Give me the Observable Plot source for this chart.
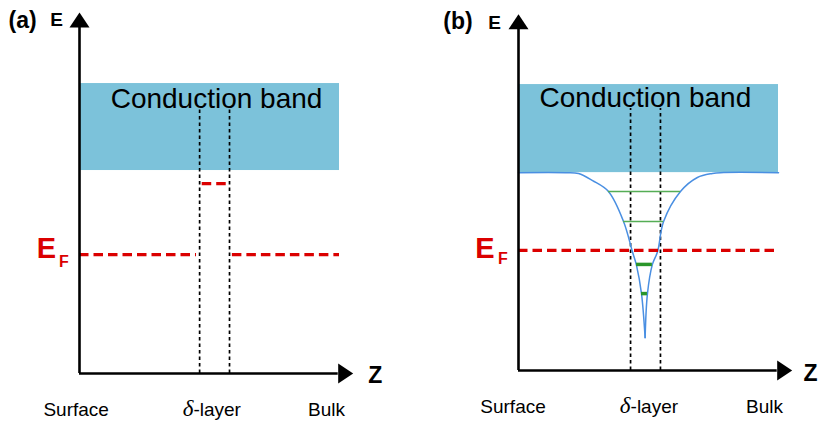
<!DOCTYPE html>
<html>
<head>
<meta charset="utf-8">
<script src="https://cdn.jsdelivr.net/npm/d3@7"></script>
<script src="https://cdn.jsdelivr.net/npm/@observablehq/plot@0.6"></script>
<style>
  html, body { margin: 0; padding: 0; background: #fff; }
  #wrap { display: flex; width: 819px; height: 421px; }
</style>
</head>
<body>
<div id="wrap"></div>
<script>
// ---------- data (abstract units: z = depth, E = energy) ----------
const panelTags = ["(a)", "(b)"];
const axisLabels = ["E", "Z"];
const bottomLabels = ["Surface", "Bulk"];
const bottomLabelZ = [[-0.13, 9.5], [-0.21, 9.46]];
const deltaSymbol = "δ";
const deltaSuffix = "-layer";
const deltaLabelZ = [4.38, 4.31];
const bandLabel = "Conduction band";
const bandLabelZ = [5.27, 4.88];
const bandLabelE = [9.17, 9.2];

const bandZ = [0, 10];
const bandBottom = [7.0, 6.92];
const bandTop = [10, 10];

const deltaLayerZ = [[4.62, 5.77], [4.31, 5.46]];
const dottedTop = [9.14, 9.16];

const fermiE = [4.1, 4.2];
const fermiSegments = [[[0, 4.5], [5.88, 10]], [[0, 10]]];
const donorLevelE = 6.55;
const donorLevelZ = [4.72, 5.68];

// potential well of panel (b)
const wellLeftZ  = [0, 1.81, 2.31, 2.85, 3.46, 4.04, 4.38, 4.54, 4.73, 4.87];
const wellLeftE  = [6.92, 6.92, 6.89, 6.64, 6.26, 5.21, 4.16, 3.67, 2.69, 1.15];
const wellRightZ = [4.87, 4.96, 5.15, 5.35, 5.58, 6.23, 6.88, 7.46, 7.77, 10];
const wellRightE = [1.15, 2.69, 3.71, 4.16, 5.21, 6.26, 6.75, 6.89, 6.92, 6.92];

// quantised sub-bands
const subbandE  = [6.26, 5.21, 3.71, 2.69];
const subbandZ1 = [3.46, 4.04, 4.54, 4.73];
const subbandZ2 = [6.23, 5.58, 5.15, 4.96];

// ---------- styling ----------
const BAND = "#7cc2da";
const RED = "#db0000";
const WELL = "#4a8fe2";
const GREEN_THIN = "#55ad55";
const GREEN_THICK = "#2a962a";
const FONT = "'Liberation Sans', Arial, Helvetica, sans-serif";

const X_MAX = 10.5, Y_MAX = 12.45;
const arrowBaseX = 9.95, arrowBaseY = 11.93;

const arrowHead = {
  draw(ctx) {
    const w = 10, h = 15;
    ctx.moveTo(0, -h);
    ctx.lineTo(w, 0);
    ctx.lineTo(-w, 0);
    ctx.closePath();
  }
};

const layouts = [
  {width: 410, marginLeft: 79, marginRight: 58, marginTop: 12, marginBottom: 48},
  {width: 409, marginLeft: 108, marginRight: 28, marginTop: 14, marginBottom: 51}
];
const tagPos = [[-2.19, 11.93], [-2.33, 11.96]];
const eLabelPos = [[-0.88, 12.0], [-0.92, 11.96]];
const zLabelPos = [[11.38, -0.33], [11.23, -0.37]];
const efPos = [[-1.27, 3.97, -0.6, 3.69], [-1.29, 3.95, -0.6, 3.74]];

function panel(i) {
  const marks = [];
  // conduction band
  marks.push(Plot.rect([{z1: bandZ[0], z2: bandZ[1], e1: bandBottom[i], e2: bandTop[i]}],
    {x1: "z1", x2: "z2", y1: "e1", y2: "e2", fill: BAND}));
  marks.push(Plot.text([{z: bandLabelZ[i], e: bandLabelE[i], t: bandLabel}],
    {x: "z", y: "e", text: "t", fontSize: 28, lineAnchor: "bottom", fill: "#000"}));

  // delta-layer boundaries
  marks.push(Plot.ruleX(deltaLayerZ[i].map(z => ({z, e1: 0, e2: dottedTop[i]})),
    {x: "z", y1: "e1", y2: "e2", stroke: "#000", strokeWidth: 1.7, strokeDasharray: "3.5,3"}));

  if (i === 1) {
    const well = [
      ...wellLeftZ.map((z, k) => ({z, e: wellLeftE[k], side: "L"})),
      ...wellRightZ.map((z, k) => ({z, e: wellRightE[k], side: "R"}))
    ];
    marks.push(Plot.line(well, {x: "z", y: "e", z: "side", stroke: WELL, strokeWidth: 1.5, curve: "catmull-rom"}));
    const subs = subbandE.map((e, k) => ({e, z1: subbandZ1[k], z2: subbandZ2[k], occ: e < fermiE[1]}));
    marks.push(Plot.ruleY(subs.filter(d => !d.occ), {y: "e", x1: "z1", x2: "z2", stroke: GREEN_THIN, strokeWidth: 1.5}));
    marks.push(Plot.ruleY(subs.filter(d => d.occ), {y: "e", x1: "z1", x2: "z2", stroke: GREEN_THICK, strokeWidth: 3.5}));
  } else {
    marks.push(Plot.ruleY([{e: donorLevelE, z1: donorLevelZ[0], z2: donorLevelZ[1]}],
      {y: "e", x1: "z1", x2: "z2", stroke: RED, strokeWidth: 3.2, strokeDasharray: "9.5,5"}));
  }

  // Fermi level
  marks.push(Plot.ruleY(fermiSegments[i].map(([z1, z2]) => ({z1, z2, e: fermiE[i]})),
    {y: "e", x1: "z1", x2: "z2", stroke: RED, strokeWidth: 3.2, strokeDasharray: "9.5,5"}));
  const [ez, ee, fz, fe] = efPos[i];
  marks.push(Plot.text([{z: ez, e: ee, t: "E"}], {x: "z", y: "e", text: "t", fill: RED, fontSize: 29, fontWeight: "bold", lineAnchor: "bottom"}));
  marks.push(Plot.text([{z: fz, e: fe, t: "F"}], {x: "z", y: "e", text: "t", fill: RED, fontSize: 16, fontWeight: "bold", lineAnchor: "bottom"}));

  // axes with arrowheads
  marks.push(Plot.ruleX([{z: 0, e1: 0, e2: arrowBaseY}], {x: "z", y1: "e1", y2: "e2", stroke: "#000", strokeWidth: 2.6}));
  marks.push(Plot.ruleY([{e: 0, z1: 0, z2: arrowBaseX}], {y: "e", x1: "z1", x2: "z2", stroke: "#000", strokeWidth: 2.6}));
  marks.push(Plot.dot([{z: 0, e: arrowBaseY}], {x: "z", y: "e", symbol: arrowHead, fill: "#000", stroke: null}));
  marks.push(Plot.dot([{z: arrowBaseX, e: 0}], {x: "z", y: "e", symbol: arrowHead, fill: "#000", stroke: null, rotate: 90}));

  // labels
  marks.push(Plot.text([{z: tagPos[i][0], e: tagPos[i][1], t: panelTags[i]}], {x: "z", y: "e", text: "t", fontSize: 23, fontWeight: "bold", lineAnchor: "bottom"}));
  marks.push(Plot.text([{z: eLabelPos[i][0], e: eLabelPos[i][1], t: axisLabels[0]}], {x: "z", y: "e", text: "t", fontSize: 19, fontWeight: "bold", lineAnchor: "bottom"}));
  marks.push(Plot.text([{z: zLabelPos[i][0], e: zLabelPos[i][1], t: axisLabels[1]}], {x: "z", y: "e", text: "t", fontSize: 23, fontWeight: "bold", lineAnchor: "bottom"}));
  marks.push(Plot.text(bottomLabels.map((t, k) => ({t, z: bottomLabelZ[i][k], e: -1.48})),
    {x: "z", y: "e", text: "t", fontSize: 19, lineAnchor: "bottom"}));
  marks.push(Plot.text([{z: deltaLabelZ[i], e: -1.48, t: deltaSymbol}],
    {x: "z", y: "e", text: "t", fontSize: 23, fontStyle: "italic", fontFamily: "'Liberation Serif', 'DejaVu Serif', serif", textAnchor: "end", lineAnchor: "bottom"}));
  marks.push(Plot.text([{z: deltaLabelZ[i], e: -1.48, t: deltaSuffix}],
    {x: "z", y: "e", text: "t", fontSize: 19, textAnchor: "start", lineAnchor: "bottom"}));

  const L = layouts[i];
  return Plot.plot({
    width: L.width,
    height: 421,
    marginLeft: L.marginLeft,
    marginRight: L.marginRight,
    marginTop: L.marginTop,
    marginBottom: L.marginBottom,
    x: {domain: [0, X_MAX], axis: null},
    y: {domain: [0, Y_MAX], axis: null},
    style: {fontFamily: FONT, background: "#fff", overflow: "visible"},
    marks
  });
}

const wrap = document.getElementById("wrap");
wrap.appendChild(panel(0));
wrap.appendChild(panel(1));
</script>
</body>
</html>
